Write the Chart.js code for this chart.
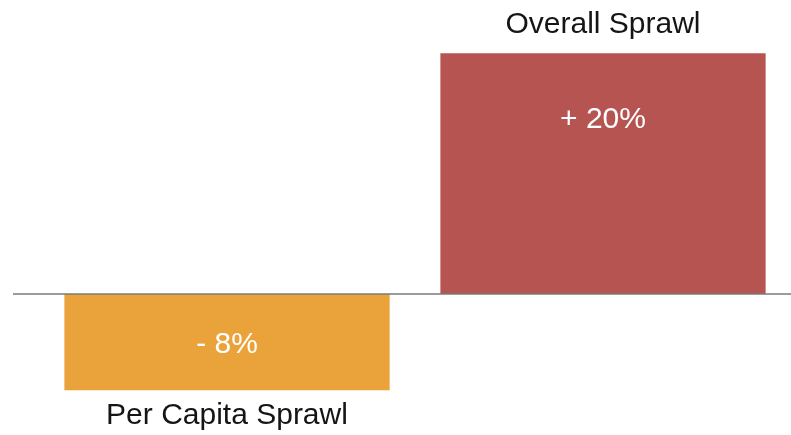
<!DOCTYPE html>
<html>
<head>
<meta charset="utf-8">
<script src="https://cdn.jsdelivr.net/npm/chart.js@4/dist/chart.umd.min.js"></script>
<style>
  body { margin: 0; background: #fff; }
  #wrap { width: 791px; height: 435px; }
</style>
</head>
<body>
<div id="wrap"><canvas id="sprawlChart" width="791" height="435"></canvas></div>
<script>
/* Data */
let categories = ["Per Capita Sprawl", "Overall Sprawl"];
let changes = [-8, 20];
let valueLabels = ["- 8%", "+ 20%"];
let barColors = ["#EAA23A", "#B55451"];

/* Labels + zero line */
const sprawlLabels = {
    id: "sprawlLabels",
    afterDatasetsDraw(chart) {
        const ctx = chart.ctx;
        const y = chart.scales.y;
        const zero = y.getPixelForValue(0);

        ctx.save();
        ctx.strokeStyle = "#7a7a7a";
        ctx.lineWidth = 1.5;
        ctx.beginPath();
        ctx.moveTo(13, zero);
        ctx.lineTo(chart.width, zero);
        ctx.stroke();

        ctx.textAlign = "center";
        ctx.textBaseline = "middle";
        chart.getDatasetMeta(0).data.forEach(function (bar, i) {
            let up = changes[i] >= 0;
            ctx.font = "30px 'Liberation Sans', Arial, sans-serif";
            ctx.fillStyle = "#ffffff";
            ctx.fillText(valueLabels[i], bar.x, up ? bar.y + 67 : zero + 51);
            ctx.fillStyle = "#151515";
            ctx.fillText(categories[i], bar.x, up ? bar.y - 28 : bar.y + 25);
        });
        ctx.restore();
    }
};

new Chart("sprawlChart", {
    type: "bar",
    data: {
        labels: categories,
        datasets: [{
            data: changes,
            backgroundColor: barColors,
            borderWidth: 0,
            barPercentage: 1,
            categoryPercentage: 0.865
        }]
    },
    options: {
        responsive: false,
        animation: false,
        layout: { padding: { top: 5, bottom: 5, left: 39, right: 0 } },
        plugins: {
            legend: { display: false },
            tooltip: { enabled: false }
        },
        scales: {
            x: { display: false },
            y: { display: false, min: -11.3, max: 24 }
        }
    },
    plugins: [sprawlLabels]
});
</script>
</body>
</html>
